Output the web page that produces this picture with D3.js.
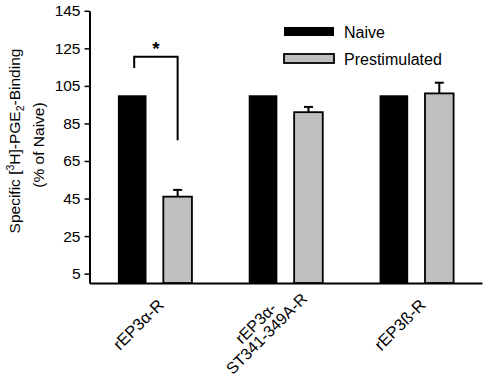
<!DOCTYPE html>
<html>
<head>
<meta charset="utf-8">
<script src="https://cdn.jsdelivr.net/npm/d3@7"></script>
<style>
  body { margin: 0; background: #fff; }
  text { font-family: "Liberation Sans", Arial, sans-serif; fill: #000; }
</style>
</head>
<body>
<div id="grafico"></div>
<script>
const width = 487;
const height = 379;

const groups = ["rEP3α-R", "rEP3α-ST341-349A-R", "rEP3ß-R"];
const groupLines = [["rEP3α-R"], ["rEP3α-", "ST341-349A-R"], ["rEP3ß-R"]];
const series = ["Naive", "Prestimulated"];
const naive = [100, 100, 100];
const prestim = [46, 91, 101];
const prestimErr = [3.6, 2.8, 5.7];
const yTicks = [5, 25, 45, 65, 85, 105, 125, 145];
const colors = ["#000000", "#bfbfbf"];

const svg = d3.select("#grafico")
              .append("svg")
              .attr("width", width)
              .attr("height", height);

const x = d3.scaleBand()
            .domain(groups)
            .range([89.5, 482])
            .padding(0);

const xInner = d3.scaleBand()
                 .domain(series)
                 .range([x.bandwidth() * 0.217, x.bandwidth() * 0.783])
                 .paddingInner(0.37);

const y = d3.scaleLinear()
            .domain([0, 145])
            .range([283, 10.8]);

// y axis
const yAxis = svg.append("g")
                 .attr("transform", "translate(89.5,0)")
                 .call(d3.axisLeft(y).tickValues(yTicks).tickSize(5).tickSizeOuter(0).tickPadding(4));
yAxis.select(".domain").attr("stroke-width", 2);
yAxis.selectAll(".tick line").attr("stroke-width", 1.5);
yAxis.selectAll(".tick text").attr("font-size", 15.5).attr("font-family", "Liberation Sans, Arial, sans-serif");

// x axis
const xAxis = svg.append("g")
                 .attr("transform", "translate(0,283)")
                 .call(d3.axisBottom(x).tickSize(0).tickSizeOuter(0).tickFormat(""));
xAxis.select(".domain").attr("stroke-width", 2);

// bars
const rows = groups.map((g, i) => ({
  group: g,
  values: [
    { key: "Naive", value: naive[i] },
    { key: "Prestimulated", value: prestim[i], err: prestimErr[i] }
  ]
}));

const gGroups = svg.selectAll(".grp")
                   .data(rows)
                   .join("g")
                   .attr("class", "grp")
                   .attr("transform", d => `translate(${x(d.group)},0)`);

gGroups.selectAll("rect")
       .data(d => d.values)
       .join("rect")
       .attr("x", d => xInner(d.key))
       .attr("y", d => y(d.value))
       .attr("width", xInner.bandwidth())
       .attr("height", d => y(0) - y(d.value))
       .attr("fill", (d, i) => colors[i])
       .attr("stroke", "#000")
       .attr("stroke-width", (d, i) => i === 1 ? 1.8 : 0);

// error bars
const errs = gGroups.append("g");
errs.append("line")
    .attr("x1", d => xInner("Prestimulated") + xInner.bandwidth() / 2)
    .attr("x2", d => xInner("Prestimulated") + xInner.bandwidth() / 2)
    .attr("y1", d => y(d.values[1].value))
    .attr("y2", d => y(d.values[1].value + d.values[1].err))
    .attr("stroke", "#000")
    .attr("stroke-width", 2);
errs.append("line")
    .attr("x1", d => xInner("Prestimulated") + xInner.bandwidth() / 2 - 4.5)
    .attr("x2", d => xInner("Prestimulated") + xInner.bandwidth() / 2 + 4.5)
    .attr("y1", d => y(d.values[1].value + d.values[1].err))
    .attr("y2", d => y(d.values[1].value + d.values[1].err))
    .attr("stroke", "#000")
    .attr("stroke-width", 2);

// significance bracket
const g0 = x(groups[0]);
const bx1 = g0 + xInner("Naive") + xInner.bandwidth() / 2 + 2;
const bx2 = g0 + xInner("Prestimulated") + xInner.bandwidth() / 2;
svg.append("path")
   .attr("d", `M${bx1},${y(114.5)}V${y(120.5)}H${bx2}V${y(76)}`)
   .attr("fill", "none")
   .attr("stroke", "#000")
   .attr("stroke-width", 2);
svg.append("text")
   .attr("x", (bx1 + bx2) / 2)
   .attr("y", y(120.5) - 2)
   .attr("text-anchor", "middle")
   .attr("font-size", 19)
   .attr("font-weight", "bold")
   .text("*");

// x labels
groupLines.forEach((lines, i) => {
  const cx = x(groups[i]) + x.bandwidth() / 2;
  if (lines.length === 1) {
    svg.append("text")
       .attr("transform", `translate(${cx + 10},306) rotate(-45)`)
       .attr("text-anchor", "end")
       .attr("font-size", 16.5)
       .text(lines[0]);
  } else {
    // two lines, centred on each other, second line one line-height lower
    lines.forEach((l, j) => {
      const off = j * 15 * Math.SQRT1_2;
      svg.append("text")
         .attr("transform", `translate(${cx - 26 + off},${327 + off}) rotate(-45)`)
         .attr("text-anchor", "middle")
         .attr("font-size", 16)
         .text(l);
    });
  }
});

// y label
const yl = svg.append("text")
              .attr("transform", "translate(20,141) rotate(-90)")
              .attr("text-anchor", "middle")
              .attr("font-size", 15.5);
yl.append("tspan").text("Specific [");
yl.append("tspan").attr("font-size", 10.5).attr("dy", -6).text("3");
yl.append("tspan").attr("dy", 6).text("H]-PGE");
yl.append("tspan").attr("font-size", 10.5).attr("dy", 4).text("2");
yl.append("tspan").attr("dy", -4).text("-Binding");
svg.append("text")
   .attr("transform", "translate(44,145) rotate(-90)")
   .attr("text-anchor", "middle")
   .attr("font-size", 15.5)
   .text("(% of Naive)");

// legend
const legend = svg.append("g").attr("transform", "translate(284,27)");
series.forEach((s, i) => {
  legend.append("rect")
        .attr("x", 0)
        .attr("y", i * 27)
        .attr("width", 50)
        .attr("height", 9)
        .attr("fill", colors[i])
        .attr("stroke", "#000")
        .attr("stroke-width", i === 1 ? 1.8 : 0);
  legend.append("text")
        .attr("x", 60)
        .attr("y", i * 27 + 11)
        .attr("font-size", 16)
        .text(s);
});
</script>
</body>
</html>
